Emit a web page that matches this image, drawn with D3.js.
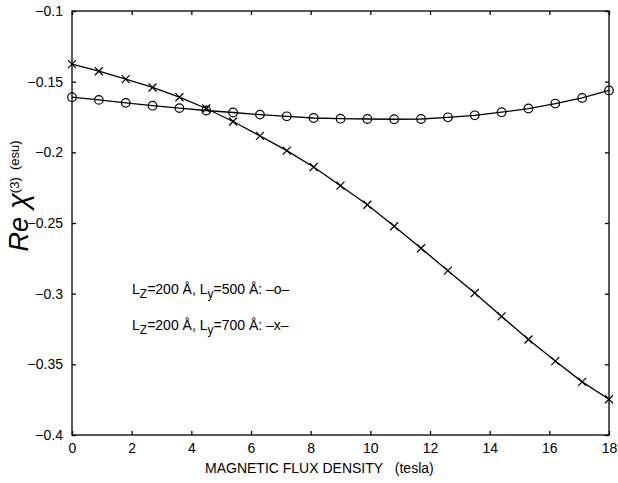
<!DOCTYPE html>
<html><head><meta charset="utf-8">
<script src="https://cdn.jsdelivr.net/npm/d3@7"></script>
<style>body{margin:0;background:#fff}svg{display:block}text{font-family:"Liberation Sans",Arial,sans-serif;fill:#000}</style>
</head><body>
<script>
const fluxB = [0,0.9,1.8,2.7,3.6,4.5,5.4,6.3,7.2,8.1,9.0,9.9,10.8,11.7,12.6,13.5,14.4,15.3,16.2,17.1,18.0];
const seriesO = [-0.1610,-0.1629,-0.1650,-0.1670,-0.1687,-0.1704,-0.1718,-0.1733,-0.1745,-0.1757,-0.1762,-0.1764,-0.1766,-0.1764,-0.1752,-0.1738,-0.1716,-0.1690,-0.1655,-0.1615,-0.1562];
const seriesX = [-0.1376,-0.1426,-0.1482,-0.1541,-0.1610,-0.1690,-0.1782,-0.1884,-0.1988,-0.2104,-0.2236,-0.2371,-0.2523,-0.2679,-0.2837,-0.2995,-0.3161,-0.3324,-0.3477,-0.3624,-0.3747];
const xTicks = [0,2,4,6,8,10,12,14,16,18];
const yTicks = [-0.4,-0.35,-0.3,-0.25,-0.2,-0.15,-0.1];
const yTickLabels = ["\u22120.4","\u22120.35","\u22120.3","\u22120.25","\u22120.2","\u22120.15","\u22120.1"];

const W=618,H=483;
const L=72,R=609,T=11,B=435;
const svg=d3.select("body").append("svg").attr("width",W).attr("height",H);
const x=d3.scaleLinear().domain([0,18]).range([L,R]);
const y=d3.scaleLinear().domain([-0.4,-0.1]).range([B,T]);

svg.append("rect").attr("x",L).attr("y",T).attr("width",R-L).attr("height",B-T)
  .attr("fill","none").attr("stroke","#000").attr("stroke-width",1.3);

const tl=4;
const xb=svg.append("g").attr("transform",`translate(0,${B})`)
  .call(d3.axisBottom(x).tickValues(xTicks).tickSizeInner(-tl).tickSizeOuter(0).tickPadding(8).tickFormat(d3.format("d")));
const xt=svg.append("g").attr("transform",`translate(0,${T})`)
  .call(d3.axisTop(x).tickValues(xTicks).tickSizeInner(-tl).tickSizeOuter(0).tickFormat(""));
const yl=svg.append("g").attr("transform",`translate(${L},0)`)
  .call(d3.axisLeft(y).tickValues(yTicks).tickSizeInner(-tl).tickSizeOuter(0).tickPadding(9).tickFormat((d,i)=>yTickLabels[i]));
const yr=svg.append("g").attr("transform",`translate(${R},0)`)
  .call(d3.axisRight(y).tickValues(yTicks).tickSizeInner(-tl).tickSizeOuter(0).tickFormat(""));
[xb,xt,yl,yr].forEach(g=>{
  g.select(".domain").remove();
  g.selectAll("line").attr("stroke","#000").attr("stroke-width",1.3);
  g.selectAll("text").attr("font-size",14).attr("font-family",'"Liberation Sans",Arial,sans-serif').attr("fill","#000");
});

const line=d3.line().x((d,i)=>x(fluxB[i])).y(d=>y(d));
svg.append("path").datum(seriesO).attr("d",line).attr("fill","none").attr("stroke","#000").attr("stroke-width",1.3);
svg.append("path").datum(seriesX).attr("d",line).attr("fill","none").attr("stroke","#000").attr("stroke-width",1.3);

svg.selectAll("circle.mo").data(seriesO).enter().append("circle")
  .attr("cx",(d,i)=>x(fluxB[i])).attr("cy",d=>y(d)).attr("r",4.3)
  .attr("fill","none").attr("stroke","#000").attr("stroke-width",1.2);
const s=4;
svg.selectAll("path.mx").data(seriesX).enter().append("path")
  .attr("d",(d,i)=>{const cx=x(fluxB[i]),cy=y(d);return `M${cx-s},${cy-s}L${cx+s},${cy+s}M${cx-s},${cy+s}L${cx+s},${cy-s}`;})
  .attr("stroke","#000").attr("stroke-width",1.2).attr("fill","none");

svg.append("text").attr("x",205).attr("y",473).attr("font-size",14)
  .text("MAGNETIC FLUX DENSITY\u00a0\u00a0\u00a0(tesla)");

const yt=svg.append("text").attr("transform","translate(28,196) rotate(-90)").attr("text-anchor","middle");
yt.append("tspan").attr("font-size",27).attr("font-style","italic").text("Re");
yt.append("tspan").attr("font-size",29).attr("font-style","italic").text(" \u03c7");
yt.append("tspan").attr("font-size",13).attr("dy",-9).text("(3)");
yt.append("tspan").attr("font-size",13).text("\u00a0\u00a0(esu)");

function leg(yy,ly,mark){
  const t=svg.append("text").attr("x",132).attr("y",yy).attr("font-size",14);
  t.append("tspan").text("L");
  t.append("tspan").attr("font-size",12).attr("dy",4).text("Z");
  t.append("tspan").attr("dy",-4).text("=200 \u00c5, L");
  t.append("tspan").attr("font-size",12).attr("dy",4).text("y");
  t.append("tspan").attr("dy",-4).text("="+ly+" \u00c5: "+mark);
}
leg(294,"500","\u2013o\u2013");
leg(330,"700","\u2013x\u2013");
</script>
</body></html>
